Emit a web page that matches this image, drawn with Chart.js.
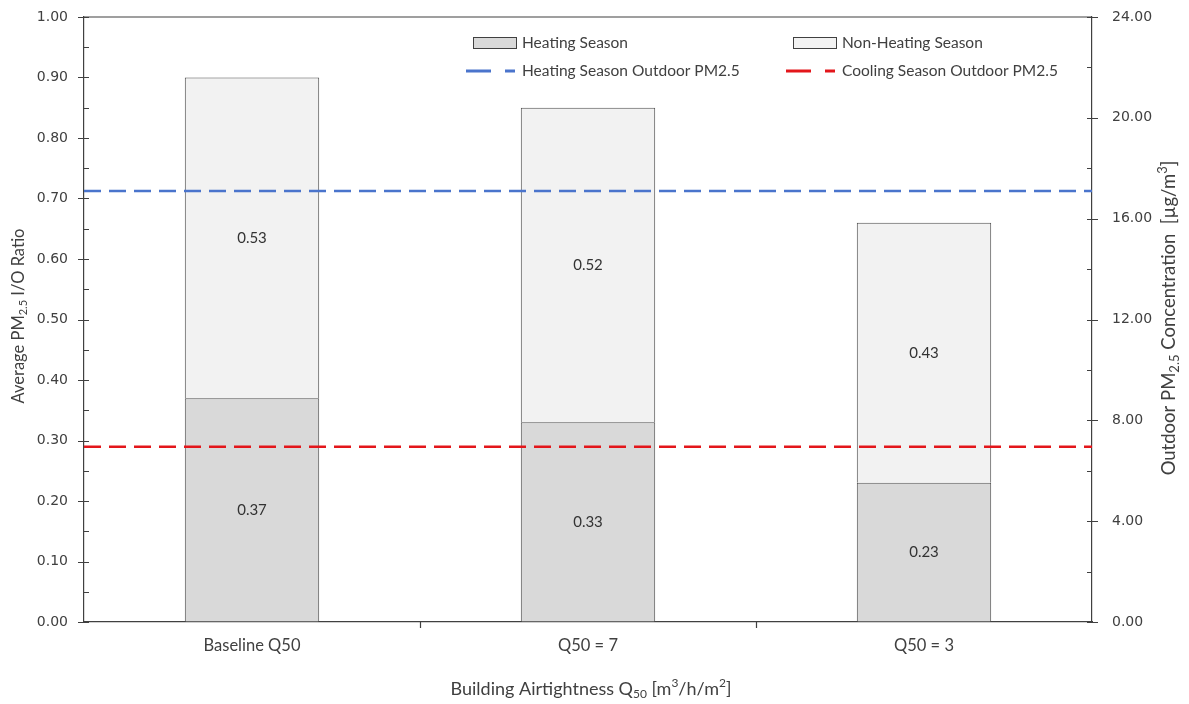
<!DOCTYPE html>
<html lang="en">
<head>
<meta charset="UTF-8">
<title>PM2.5 I/O Ratio by Building Airtightness</title>
<script src="https://cdn.jsdelivr.net/npm/chart.js"></script>
<style>
  html, body { margin: 0; padding: 0; background: #fff; }
  #wrap { width: 1189px; height: 704px; }
</style>
</head>
<body>
<div id="wrap"><canvas id="chart" width="1189" height="704"></canvas></div>
<script>
// data
const categories = ['Baseline Q50', 'Q50 = 7', 'Q50 = 3'];
const heatingRatio = [0.37, 0.33, 0.23];
const nonHeatingRatio = [0.53, 0.52, 0.43];
const heatingOutdoorPM = 17.1;   // right axis, ug/m3
const coolingOutdoorPM = 6.95;
const ratioMax = 1.0, ratioStep = 0.1;
const pmMax = 24, pmStep = 4;

const axisColor = '#404040';
const textColor = '#404040';
const tickFont = { family: 'DejaVu Sans', size: 14 };
const labelFamily = 'Lato';

function drawRich(ctx, parts, x, y, size) {
    // parts: [text, mode] where mode is '', 'sub' or 'sup'
    const small = Math.round(size * 0.68);
    let total = 0;
    parts.forEach(p => {
        ctx.font = (p[1] ? small : size) + 'px ' + labelFamily;
        total += ctx.measureText(p[0]).width;
    });
    let cx = x - total / 2;
    ctx.textAlign = 'left';
    ctx.textBaseline = 'middle';
    parts.forEach(p => {
        ctx.font = (p[1] ? small : size) + 'px ' + labelFamily;
        let dy = 0;
        if (p[1] === 'sub') dy = size * 0.3;
        if (p[1] === 'sup') dy = -size * 0.35;
        ctx.fillText(p[0], cx, y + dy);
        cx += ctx.measureText(p[0]).width;
    });
}

const decorations = {
    id: 'decorations',
    afterDatasetsDraw(chart) {
        const ctx = chart.ctx;
        ctx.save();
        ctx.fillStyle = '#333';
        ctx.font = '15px ' + labelFamily;
        ctx.textAlign = 'center';
        ctx.textBaseline = 'middle';
        [heatingRatio, nonHeatingRatio].forEach((vals, di) => {
            chart.getDatasetMeta(di).data.forEach((bar, i) => {
                ctx.fillText(vals[i].toFixed(2), bar.x, (bar.y + bar.base) / 2);
            });
        });
        ctx.restore();
    },
    afterDraw(chart) {
        const ctx = chart.ctx;
        const a = chart.chartArea;
        const y = chart.scales.y, y2 = chart.scales.y2, x = chart.scales.x;
        ctx.save();
        ctx.strokeStyle = axisColor;
        ctx.lineWidth = 1.2;
        ctx.beginPath();
        // top frame
        ctx.moveTo(a.left, a.top); ctx.lineTo(a.right, a.top);
        // left ticks
        for (let v = 0; v <= ratioMax + 1e-9; v += ratioStep / 2) {
            const py = Math.round(y.getPixelForValue(v)) + 0.5;
            const major = Math.round(v / (ratioStep / 2)) % 2 === 0;
            ctx.moveTo(a.left - (major ? 6 : 0), py);
            ctx.lineTo(a.left + 5, py);
        }
        // right ticks
        for (let v = 0; v <= pmMax + 1e-9; v += pmStep / 2) {
            const py = Math.round(y2.getPixelForValue(v)) + 0.5;
            const major = Math.round(v / (pmStep / 2)) % 2 === 0;
            ctx.moveTo(a.right - 5, py);
            ctx.lineTo(a.right + (major ? 6 : 0), py);
        }
        // category boundary ticks
        for (let i = 0; i < categories.length - 1; i++) {
            const px = Math.round((x.getPixelForValue(i) + x.getPixelForValue(i + 1)) / 2) + 0.5;
            ctx.moveTo(px, a.bottom);
            ctx.lineTo(px, a.bottom + 6);
        }
        ctx.stroke();

        // axis titles
        ctx.fillStyle = textColor;
        ctx.save();
        ctx.translate(19, 316);
        ctx.rotate(-Math.PI / 2);
        drawRich(ctx, [['Average PM', ''], ['2.5', 'sub'], [' I/O Ratio', '']], 0, 0, 16.5);
        ctx.restore();
        ctx.save();
        ctx.translate(1169, 318);
        ctx.rotate(-Math.PI / 2);
        drawRich(ctx, [['Outdoor PM', ''], ['2.5', 'sub'], [' Concentration  [\u00b5g/m', ''], ['3', 'sup'], [']', '']], 0, 0, 18.5);
        ctx.restore();
        drawRich(ctx, [['Building Airtightness Q', ''], ['50', 'sub'], [' [m', ''], ['3', 'sup'], ['/h/m', ''], ['2', 'sup'], [']', '']],
            (a.left + a.right) / 2 + 3, 689, 18);

        // legend
        const ds = chart.data.datasets;
        ctx.font = '15.5px ' + labelFamily;
        ctx.textAlign = 'left';
        ctx.textBaseline = 'middle';
        const cols = [473, 793];
        [0, 1].forEach(i => {
            ctx.fillStyle = ds[i].backgroundColor;
            ctx.fillRect(cols[i], 37.5, 43, 11);
            ctx.strokeStyle = '#404040';
            ctx.lineWidth = 1;
            ctx.strokeRect(cols[i] + 0.5, 37.5, 43, 11);
            ctx.fillStyle = textColor;
            ctx.fillText(ds[i].label, cols[i] + 49, 43);
        });
        [2, 3].forEach((di, i) => {
            const lx = cols[i] - 7;
            ctx.strokeStyle = ds[di].borderColor;
            ctx.lineWidth = 3;
            ctx.beginPath();
            ctx.moveTo(lx, 71); ctx.lineTo(lx + 25, 71);
            ctx.moveTo(lx + 39, 71); ctx.lineTo(lx + 49, 71);
            ctx.stroke();
            ctx.fillStyle = textColor;
            ctx.fillText(ds[di].label, cols[i] + 49, 71);
        });
        ctx.restore();
    }
};

const flatLine = v => [{ x: 0, y: v }, { x: categories.length, y: v }];

new Chart(document.getElementById('chart'), {
    type: 'bar',
    data: {
        labels: categories,
        datasets: [
            {
                label: 'Heating Season', data: heatingRatio, stack: 'ratio', grouped: false,
                backgroundColor: '#d9d9d9', borderColor: '#4d4d4d', borderWidth: 1,
                barPercentage: 0.4, categoryPercentage: 1, order: 2
            },
            {
                label: 'Non-Heating Season', data: nonHeatingRatio, stack: 'ratio', grouped: false,
                backgroundColor: '#f2f2f2', borderColor: '#4d4d4d', borderWidth: 1,
                barPercentage: 0.4, categoryPercentage: 1, order: 2
            },
            {
                type: 'line', label: 'Heating Season Outdoor PM2.5', data: flatLine(heatingOutdoorPM),
                xAxisID: 'x2', yAxisID: 'y2', borderColor: '#4a74cc', borderWidth: 2.5,
                borderDash: [17, 8], pointRadius: 0, fill: false, order: 1
            },
            {
                type: 'line', label: 'Cooling Season Outdoor PM2.5', data: flatLine(coolingOutdoorPM),
                xAxisID: 'x2', yAxisID: 'y2', borderColor: '#e3161b', borderWidth: 2.5,
                borderDash: [17, 8], pointRadius: 0, fill: false, order: 1
            }
        ]
    },
    options: {
        responsive: false,
        devicePixelRatio: 1,
        animation: false,
        layout: { padding: { top: 17, left: 0, right: 0, bottom: 0 } },
        plugins: { legend: { display: false }, tooltip: { enabled: false } },
        scales: {
            x: {
                type: 'category', stacked: true, offset: true,
                grid: { display: true, drawOnChartArea: false, drawTicks: false },
                border: { color: axisColor, width: 1.2 },
                ticks: { font: { family: labelFamily, size: 16.5 }, color: textColor, padding: 14 },
                afterFit: s => { s.height = 82; }
            },
            x2: { type: 'linear', min: 0, max: categories.length, offset: false, display: false },
            y: {
                stacked: true, min: 0, max: ratioMax,
                grid: { display: true, drawOnChartArea: false, drawTicks: true, tickLength: 14, tickColor: 'rgba(0,0,0,0)' },
                border: { color: axisColor, width: 1.2 },
                ticks: { stepSize: ratioStep, font: tickFont, color: textColor, padding: 2,
                         callback: v => v.toFixed(2) },
                afterFit: s => { s.width = 84; }
            },
            y2: {
                position: 'right', min: 0, max: pmMax,
                grid: { display: true, drawOnChartArea: false, drawTicks: true, tickLength: 18, tickColor: 'rgba(0,0,0,0)' },
                border: { color: axisColor, width: 1.2 },
                ticks: { stepSize: pmStep, font: tickFont, color: textColor, padding: 2,
                         callback: v => v.toFixed(2) },
                afterFit: s => { s.width = 97; }
            }
        }
    },
    plugins: [decorations]
});
</script>
</body>
</html>
